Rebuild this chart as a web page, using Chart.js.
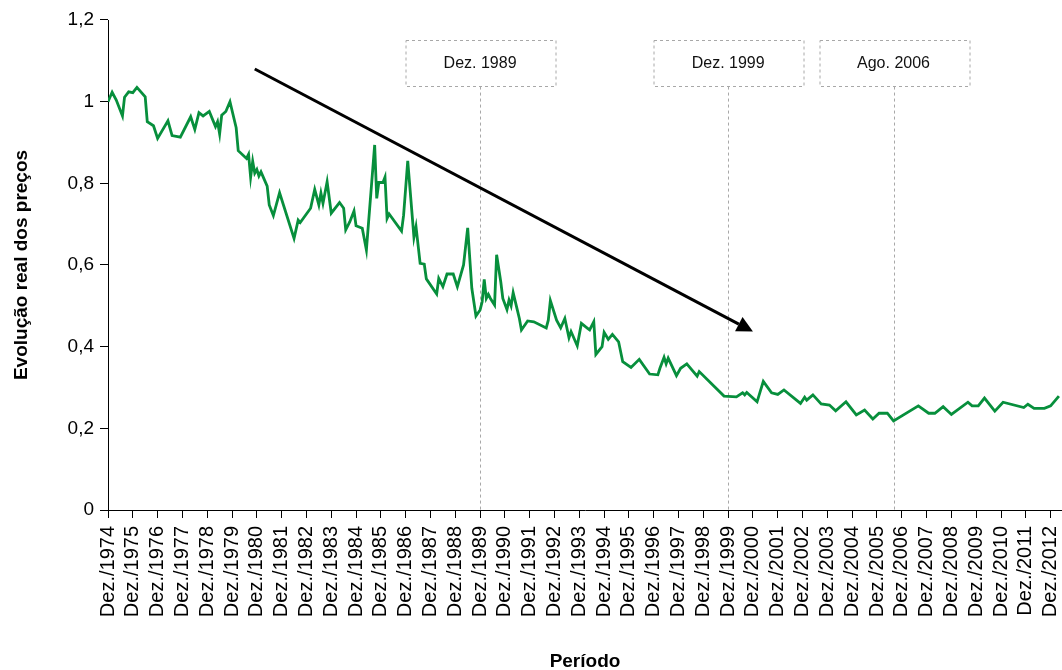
<!DOCTYPE html>
<html>
<head>
<meta charset="utf-8">
<script src="https://cdn.jsdelivr.net/npm/chart.js@4.4.1/dist/chart.umd.min.js"></script>
<style>
    html, body { margin: 0; padding: 0; background: #fff; }
    #wrap { width: 1062px; height: 670px; }
</style>
</head>
<body>
<div id="wrap"><canvas id="precosChart"></canvas></div>
<script>
// months counted from Dez./1974 (0) and real price index
const meses = [
    0, 2, 4, 7, 8, 10, 12, 14, 18, 19, 22, 24, 29, 31, 35, 40, 42, 44, 46, 49,
    52, 53, 54, 55, 57, 59, 62, 63, 67, 68, 69, 70, 71, 72, 73, 74, 77, 78, 80, 83,
    90, 92, 93, 98, 100, 102, 103, 104, 106, 108, 112, 114, 115, 117, 119, 120, 123, 125, 129, 130,
    131, 133, 134, 135, 136, 142, 143, 145, 148, 149, 151, 153, 154, 159, 160, 162, 164, 167, 169, 172,
    174, 176, 178, 180, 181, 182, 183, 184, 185, 187, 188, 190, 191, 193, 194, 195, 196, 198, 199, 200,
    203, 206, 212, 213, 214, 217, 219, 221, 223, 224, 227, 229, 232, 233, 235, 236, 239, 240, 242, 244,
    247, 249, 253, 257, 262, 266, 267, 269, 270, 271, 275, 277, 280, 285, 286, 298, 304, 307, 308, 309,
    314, 317, 321, 324, 327, 335, 337, 338, 341, 345, 349, 352, 357, 362, 366, 370, 373, 377, 380, 392,
    397, 400, 404, 408, 416, 418, 421, 424, 429, 433, 443, 445, 448, 453, 456, 460
];
const valores = [
    1.00, 1.023, 1.004, 0.965, 1.011, 1.024, 1.022, 1.035, 1.012, 0.951, 0.941, 0.910, 0.953, 0.917, 0.913, 0.963, 0.932, 0.973, 0.965, 0.976,
    0.939, 0.951, 0.921, 0.967, 0.976, 1.000, 0.936, 0.880, 0.861, 0.871, 0.815, 0.854, 0.825, 0.834, 0.818, 0.828, 0.793, 0.747, 0.721, 0.777,
    0.665, 0.710, 0.704, 0.739, 0.785, 0.747, 0.776, 0.751, 0.804, 0.727, 0.753, 0.739, 0.686, 0.706, 0.732, 0.696, 0.690, 0.637, 0.894, 0.763,
    0.802, 0.802, 0.815, 0.714, 0.725, 0.683, 0.722, 0.855, 0.668, 0.694, 0.604, 0.602, 0.566, 0.529, 0.567, 0.547, 0.578, 0.578, 0.547, 0.600,
    0.691, 0.543, 0.475, 0.490, 0.510, 0.565, 0.518, 0.528, 0.518, 0.502, 0.625, 0.559, 0.518, 0.491, 0.514, 0.500, 0.532, 0.490, 0.469, 0.441,
    0.463, 0.461, 0.446, 0.465, 0.513, 0.465, 0.446, 0.469, 0.422, 0.437, 0.402, 0.457, 0.445, 0.441, 0.461, 0.381, 0.400, 0.435, 0.418, 0.430,
    0.412, 0.363, 0.349, 0.369, 0.333, 0.331, 0.347, 0.374, 0.358, 0.372, 0.329, 0.347, 0.358, 0.328, 0.339, 0.279, 0.277, 0.287, 0.282, 0.288,
    0.265, 0.315, 0.287, 0.283, 0.294, 0.261, 0.276, 0.269, 0.282, 0.260, 0.257, 0.243, 0.265, 0.233, 0.245, 0.223, 0.237, 0.237, 0.218, 0.255,
    0.237, 0.237, 0.253, 0.234, 0.264, 0.255, 0.255, 0.274, 0.242, 0.264, 0.251, 0.259, 0.249, 0.249, 0.255, 0.279
];

const rotulosX = [];
for (let ano = 1974; ano <= 2012; ano++) {
    rotulosX.push("Dez./" + ano);
}
const rotulosY = ["0", "0,2", "0,4", "0,6", "0,8", "1", "1,2"];

// vertical markers with their boxes
const marcoMeses = [180, 300, 380];
const marcoRotulos = ["Dez. 1989", "Dez. 1999", "Ago. 2006"];

// trend arrow: [month, value] start and tip
const setaInicio = [71, 1.08];
const setaFim = [312, 0.437];

const FONTE = "'Liberation Sans', Arial, sans-serif";

const marcosPlugin = {
    id: "marcos",
    beforeDatasetsDraw(chart) {
        const { ctx, scales: { x, y } } = chart;
        const topoCaixa = y.getPixelForValue(1.15);
        const baseCaixa = y.getPixelForValue(1.037);
        const largura = 150;
        ctx.save();
        ctx.strokeStyle = "#a8a8a8";
        ctx.lineWidth = 1;
        ctx.setLineDash([3, 3]);
        marcoMeses.forEach((m, i) => {
            const px = Math.round(x.getPixelForValue(m)) + 0.5;
            ctx.beginPath();
            ctx.moveTo(px, baseCaixa);
            ctx.lineTo(px, y.getPixelForValue(0));
            ctx.stroke();
            ctx.strokeRect(Math.round(px - largura / 2), Math.round(topoCaixa) + 0.5, largura, Math.round(baseCaixa - topoCaixa));
        });
        ctx.setLineDash([]);
        ctx.fillStyle = "#111";
        ctx.font = "16px " + FONTE;
        ctx.textAlign = "center";
        ctx.textBaseline = "middle";
        marcoMeses.forEach((m, i) => {
            const px = x.getPixelForValue(m);
            ctx.fillText(marcoRotulos[i], px, (topoCaixa + baseCaixa) / 2);
        });
        ctx.restore();
    },
    afterDatasetsDraw(chart) {
        const { ctx, scales: { x, y } } = chart;
        const x1 = x.getPixelForValue(setaInicio[0]);
        const y1 = y.getPixelForValue(setaInicio[1]);
        const x2 = x.getPixelForValue(setaFim[0]);
        const y2 = y.getPixelForValue(setaFim[1]);
        const ang = Math.atan2(y2 - y1, x2 - x1);
        const comp = 16;
        const meia = 8;
        const bx = x2 - comp * Math.cos(ang);
        const by = y2 - comp * Math.sin(ang);
        ctx.save();
        ctx.strokeStyle = "#000";
        ctx.lineWidth = 3;
        ctx.beginPath();
        ctx.moveTo(x1, y1);
        ctx.lineTo(bx, by);
        ctx.stroke();
        ctx.fillStyle = "#000";
        ctx.beginPath();
        ctx.moveTo(x2, y2);
        ctx.lineTo(bx + meia * Math.sin(ang), by - meia * Math.cos(ang));
        ctx.lineTo(bx - meia * Math.sin(ang), by + meia * Math.cos(ang));
        ctx.closePath();
        ctx.fill();
        ctx.restore();
    }
};

const ctx = document.getElementById("precosChart").getContext("2d");
new Chart(ctx, {
    type: "line",
    data: {
        datasets: [{
            label: "Evolução real dos preços",
            data: meses.map((m, i) => ({ x: m, y: valores[i] })),
            borderColor: "#078f3c",
            borderWidth: 2.8,
            pointRadius: 0,
            tension: 0,
            fill: false
        }]
    },
    options: {
        responsive: true,
        maintainAspectRatio: false,
        animation: false,
        layout: { padding: { top: 20, right: 0, left: 0, bottom: 0 } },
        plugins: {
            legend: { display: false },
            tooltip: { enabled: false }
        },
        scales: {
            x: {
                type: "linear",
                min: 0,
                max: 461.5,
                afterBuildTicks: scale => {
                    scale.ticks = rotulosX.map((_, i) => ({ value: i * 12 }));
                },
                afterFit: scale => {
                    scale.height = 160;
                    scale.paddingLeft = 0;
                    scale.paddingRight = 0;
                },
                grid: { drawOnChartArea: false, drawTicks: true, tickLength: 8, color: "#000" },
                border: { display: true, color: "#000", width: 1 },
                ticks: {
                    autoSkip: false,
                    maxRotation: 90,
                    minRotation: 90,
                    padding: 8,
                    color: "#000",
                    font: { family: FONTE, size: 20 },
                    callback: (value, index) => rotulosX[index]
                },
                title: {
                    display: true,
                    text: "Período",
                    color: "#000",
                    font: { family: FONTE, size: 19, weight: "bold" },
                    padding: { top: 0, bottom: -3 }
                }
            },
            y: {
                min: 0,
                max: 1.2,
                afterBuildTicks: scale => {
                    scale.ticks = rotulosY.map((_, i) => ({ value: i * 0.2 }));
                },
                afterFit: scale => { scale.width = 108; },
                grid: { drawOnChartArea: false, drawTicks: true, tickLength: 8, color: "#000" },
                border: { display: true, color: "#000", width: 1 },
                ticks: {
                    padding: 6,
                    color: "#000",
                    font: { family: FONTE, size: 19 },
                    callback: (value, index) => rotulosY[index]
                },
                title: {
                    display: true,
                    text: "Evolução real dos preços",
                    color: "#000",
                    font: { family: FONTE, size: 19, weight: "bold" },
                    padding: { top: 10, bottom: 0 }
                }
            }
        }
    },
    plugins: [marcosPlugin]
});
</script>
</body>
</html>
